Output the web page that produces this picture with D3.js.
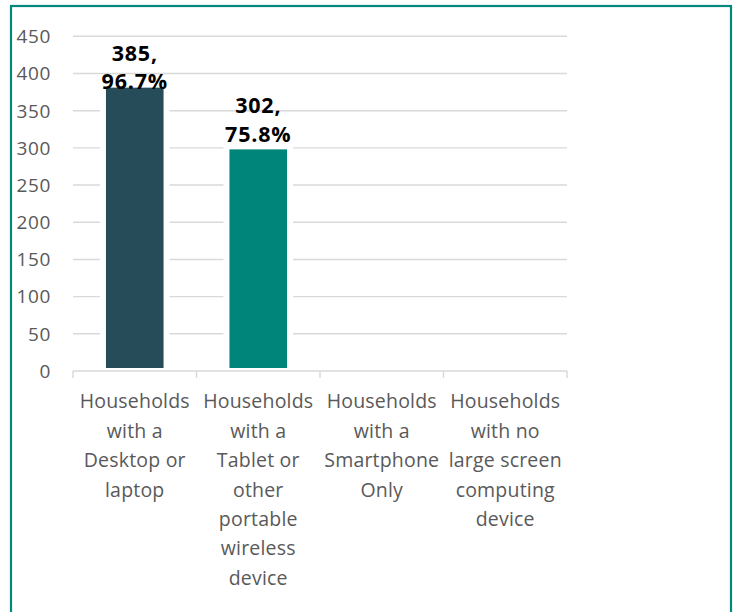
<!DOCTYPE html>
<html>
<head>
<meta charset="utf-8">
<script src="https://cdn.jsdelivr.net/npm/d3@7"></script>
<style>
  html, body { margin: 0; padding: 0; background: #fff; }
  svg { display: block; }
</style>
</head>
<body>
<svg id="chart" width="736" height="612"></svg>
<script>
// Device ownership by household
const categories = [
  ["Households", "with a", "Desktop or", "laptop"],
  ["Households", "with a", "Tablet or", "other", "portable", "wireless", "device"],
  ["Households", "with a", "Smartphone", "Only"],
  ["Households", "with no", "large screen", "computing", "device"]
];
const counts = [385, 302, null, null];
const percents = ["96.7%", "75.8%", null, null];
const barColors = ["#264B59", "#00857A", "#264B59", "#00857A"];
const yTicks = [0, 50, 100, 150, 200, 250, 300, 350, 400, 450];

const svg = d3.select("#chart");
const font = "'Open Sans', Lato, 'Liberation Sans', sans-serif";

// outer frame
svg.append("rect")
  .attr("x", 11).attr("y", 6)
  .attr("width", 720).attr("height", 620)
  .attr("fill", "#fff")
  .attr("stroke", "#03897C")
  .attr("stroke-width", 2.2);

const plotLeft = 73, plotRight = 567;
const x = d3.scaleBand()
  .domain(d3.range(categories.length))
  .range([plotLeft, plotRight])
  .paddingInner(0.485)
  .paddingOuter(0.2425);

const y = d3.scaleLinear().domain([0, 450]).range([371, 36.3]);

// gridlines
svg.append("g")
  .selectAll("line")
  .data(yTicks.filter(d => d > 0))
  .join("line")
  .attr("x1", plotLeft).attr("x2", plotRight)
  .attr("y1", d => y(d))
  .attr("y2", d => y(d))
  .attr("stroke", "#D9D9D9")
  .attr("stroke-width", 1.4);

// y tick labels
svg.append("g")
  .selectAll("text")
  .data(yTicks)
  .join("text")
  .attr("x", 51)
  .attr("y", d => y(d))
  .attr("dy", "0.36em")
  .attr("text-anchor", "end")
  .attr("font-family", font)
  .attr("font-size", 19)
  .attr("letter-spacing", 0.6)
  .attr("fill", "#595959")
  .text(d => d);

// bars, with a white outline that cuts the gridlines
const data = counts.map((v, i) => ({ i, v, pct: percents[i] })).filter(d => d.v != null);
svg.append("g")
  .selectAll("rect")
  .data(data)
  .join("rect")
  .attr("x", d => x(d.i))
  .attr("y", d => y(d.v))
  .attr("width", x.bandwidth())
  .attr("height", d => y(0) - y(d.v))
  .attr("fill", d => barColors[d.i])
  .attr("stroke", "#fff")
  .attr("stroke-width", 6);

// x axis line and ticks
const axisG = svg.append("g");
axisG.append("line")
  .attr("x1", plotLeft).attr("x2", plotRight)
  .attr("y1", y(0)).attr("y2", y(0))
  .attr("stroke", "#D9D9D9").attr("stroke-width", 1.4);
const edges = d3.range(categories.length + 1)
  .map(k => plotLeft + k * (plotRight - plotLeft) / categories.length);
axisG.selectAll("line.tick")
  .data(edges)
  .join("line")
  .attr("class", "tick")
  .attr("x1", d => d).attr("x2", d => d)
  .attr("y1", y(0)).attr("y2", y(0) + 7)
  .attr("stroke", "#D9D9D9").attr("stroke-width", 1.4);

// category labels
const catG = svg.append("g");
categories.forEach((lines, i) => {
  const cx = x(i) + x.bandwidth() / 2;
  const t = catG.append("text")
    .attr("text-anchor", "middle")
    .attr("font-family", font)
    .attr("font-size", 19.5)
    .attr("letter-spacing", 0.2)
    .attr("fill", "#595959");
  lines.forEach((ln, j) => {
    t.append("tspan").attr("x", cx).attr("y", 408.3 + j * 29.4).text(ln);
  });
});

// value labels, placed above each bar but kept inside the plot top
const labG = svg.append("g");
data.forEach(d => {
  const cx = x(d.i) + x.bandwidth() / 2;
  const base = Math.max(y(d.v) - 4.5, y(450) + 53);
  const t = labG.append("text")
    .attr("text-anchor", "middle")
    .attr("font-family", font)
    .attr("font-size", 21.5)
    .attr("font-weight", "bold")
    .attr("letter-spacing", 0.8)
    .attr("fill", "#000");
  t.append("tspan").attr("x", cx).attr("y", base - 28.5).text(d.v + ",");
  t.append("tspan").attr("x", cx).attr("y", base).text(d.pct);
});
</script>
</body>
</html>
